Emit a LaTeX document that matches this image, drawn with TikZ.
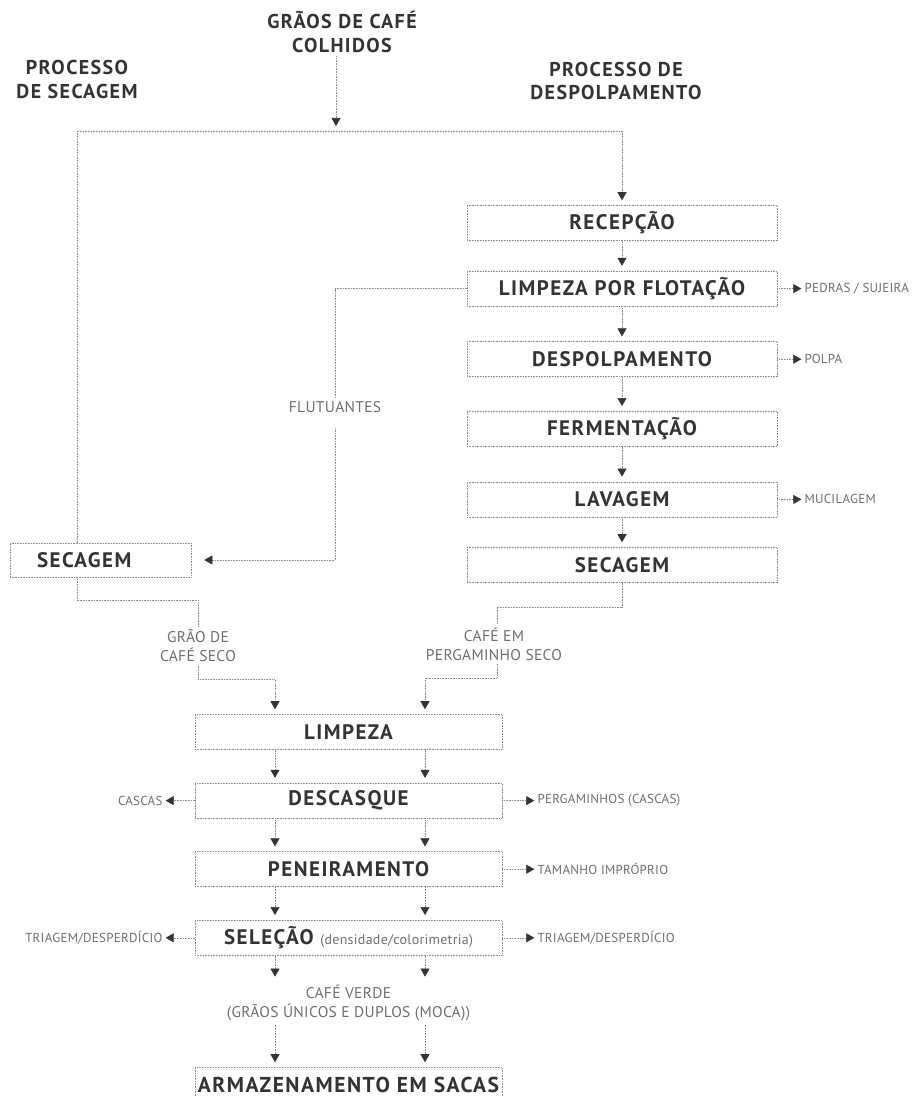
\documentclass[tikz,border=0pt]{standalone}
\usepackage{fontspec}
\setmainfont{PT Sans}
\newfontfamily\fontetapa{PT Sans}[LetterSpace=7]
\newfontfamily\fontrotulo{PT Sans}[LetterSpace=2]
\usepackage{tikz}
\usetikzlibrary{positioning,arrows.meta,calc}
\definecolor{txtdark}{HTML}{333333}
\definecolor{txtgrey}{HTML}{6E6E6E}
\definecolor{linegrey}{HTML}{8E8E8E}

\begin{document}
\begin{tikzpicture}[x=1pt,y=-1pt,
    etapa/.style={draw=linegrey, densely dotted, line width=0.6pt, rectangle, inner sep=0pt, minimum width=310pt, minimum height=35pt, text=txtdark, font=\fontetapa\fontsize{21}{21}\selectfont\bfseries},
    titulo/.style={align=center, text=txtdark, font=\fontetapa\fontsize{20}{24}\selectfont\bfseries},
    rotulo/.style={align=center, text=txtgrey, font=\fontrotulo\fontsize{15.5}{19}\selectfont},
    saida/.style={text=txtgrey, inner sep=2pt, font=\fontrotulo\fontsize{13}{13}\selectfont},
    linha/.style={draw=linegrey, densely dotted, line width=0.6pt},
    seta/.style={linha, -{Triangle[length=8pt,width=9pt,color=txtdark]}, shorten >=5pt}]

    \useasboundingbox (0,0) rectangle (921,1097);
    \clip (0,0) rectangle (921,1097);

    % titulos
    \node[titulo](graos-colhidos) at (342,32){GRÃOS DE CAFÉ\\COLHIDOS};
    \node[titulo](proc-secagem) at (77,80){PROCESSO\\DE SECAGEM};
    \node[titulo](proc-despolpa) at (616,81){PROCESSO DE\\DESPOLPAMENTO};
    \coordinate (juncao) at (336,131);

    % processo de despolpamento
    \node[etapa](recepcao) at (622,223){RECEPÇÃO};
    \node[etapa, below=30pt of recepcao](limpeza-flot){LIMPEZA POR FLOTAÇÃO};
    \node[etapa, below=35pt of limpeza-flot](despolpamento){DESPOLPAMENTO};
    \node[etapa, below=34pt of despolpamento](fermentacao){FERMENTAÇÃO};
    \node[etapa, below=35pt of fermentacao](lavagem){LAVAGEM};
    \node[etapa, below=30pt of lavagem](secagem-dir){SECAGEM};
    \node[saida, right=25pt of limpeza-flot](pedras){PEDRAS / SUJEIRA};
    \node[saida, right=25pt of despolpamento](polpa){POLPA};
    \node[saida, right=25pt of lavagem](mucilagem){MUCILAGEM};

    % processo de secagem
    \node[etapa, minimum width=181pt, minimum height=34pt, inner xsep=27pt, text width=127pt, align=left](secagem-esq) at (100.5,560){SECAGEM};
    \node[rotulo](flutuantes) at (335,407){FLUTUANTES};

    \draw[seta, shorten <=0pt] (graos-colhidos.south -| juncao) -- (juncao);
    \draw[seta] (proc-secagem |- secagem-esq.north) -- (proc-secagem |- juncao) -| (recepcao.north);
    \draw[seta] (recepcao) -- (limpeza-flot);
    \draw[seta] (limpeza-flot) -- (despolpamento);
    \draw[seta] (despolpamento) -- (fermentacao);
    \draw[seta] (fermentacao) -- (lavagem);
    \draw[seta] (lavagem) -- (secagem-dir);
    \draw[seta, shorten >=1pt] (limpeza-flot) -- (pedras);
    \draw[seta, shorten >=1pt] (despolpamento) -- (polpa);
    \draw[seta, shorten >=1pt] (lavagem) -- (mucilagem);
    \draw[linha] (limpeza-flot.west) -| (flutuantes.north);
    \draw[seta, shorten <=12pt, shorten >=13pt] (flutuantes.south) |- (secagem-esq.east);

    % cafe seco
    \node[rotulo](grao-seco) at (198,646){GRÃO DE\\CAFÉ SECO};
    \node[rotulo](perg-seco) at (494,644){CAFÉ EM\\PERGAMINHO SECO};

    % beneficiamento
    \node[etapa, minimum width=307pt](limpeza-sec) at (348.5,732){LIMPEZA};
    \node[etapa, minimum width=307pt, below=33pt of limpeza-sec](descasque){DESCASQUE};
    \node[etapa, minimum width=307pt, below=33pt of descasque](peneiramento){PENEIRAMENTO};
    \node[etapa, minimum width=307pt, below=33pt of peneiramento](selecao){SELEÇÃO {\fontrotulo\fontsize{14}{14}\selectfont\mdseries\color{txtgrey}(densidade/colorimetria)}};
    \node[rotulo, below=26pt of selecao](cafe-verde){CAFÉ VERDE\\(GRÃOS ÚNICOS E DUPLOS (MOCA))};
    \node[etapa, minimum width=307pt, font=\fontetapa\fontsize{21.5}{21.5}\selectfont\bfseries](armazenamento) at (348.5,1085){ARMAZENAMENTO EM SACAS};
    \coordinate (eixo-esq) at (275,0);
    \coordinate (eixo-dir) at (425,0);

    \draw[linha] (secagem-esq.south -| proc-secagem) -- ++(0,23) -| (grao-seco.north);
    \draw[seta] (grao-seco.south) -- ++(0,14) -| (limpeza-sec.north -| eixo-esq);
    \draw[linha] (secagem-dir.south) -- ++(0,24) -| (perg-seco.north -| 497,0);
    \draw[seta] (perg-seco.south -| 497,0) -- ++(0,14) -| (limpeza-sec.north -| eixo-dir);

    \foreach \de/\para in {limpeza-sec/descasque, descasque/peneiramento, peneiramento/selecao, selecao/cafe-verde, cafe-verde/armazenamento}{
        \draw[seta] (\de.south -| eixo-esq) -- (\para.north -| eixo-esq);
        \draw[seta] (\de.south -| eixo-dir) -- (\para.north -| eixo-dir);
    }

    \node[saida, left=30pt of descasque](cascas){CASCAS};
    \node[saida, right=33pt of descasque](pergaminhos){PERGAMINHOS (CASCAS)};
    \node[saida, right=33pt of peneiramento](tamanho){TAMANHO IMPRÓPRIO};
    \node[saida, left=30pt of selecao](triagem-esq){TRIAGEM/DESPERDÍCIO};
    \node[saida, right=33pt of selecao](triagem-dir){TRIAGEM/DESPERDÍCIO};
    \draw[seta, shorten >=1pt] (descasque) -- (cascas);
    \draw[seta, shorten >=1pt] (descasque) -- (pergaminhos);
    \draw[seta, shorten >=1pt] (peneiramento) -- (tamanho);
    \draw[seta, shorten >=1pt] (selecao) -- (triagem-esq);
    \draw[seta, shorten >=1pt] (selecao) -- (triagem-dir);
\end{tikzpicture}
\end{document}
